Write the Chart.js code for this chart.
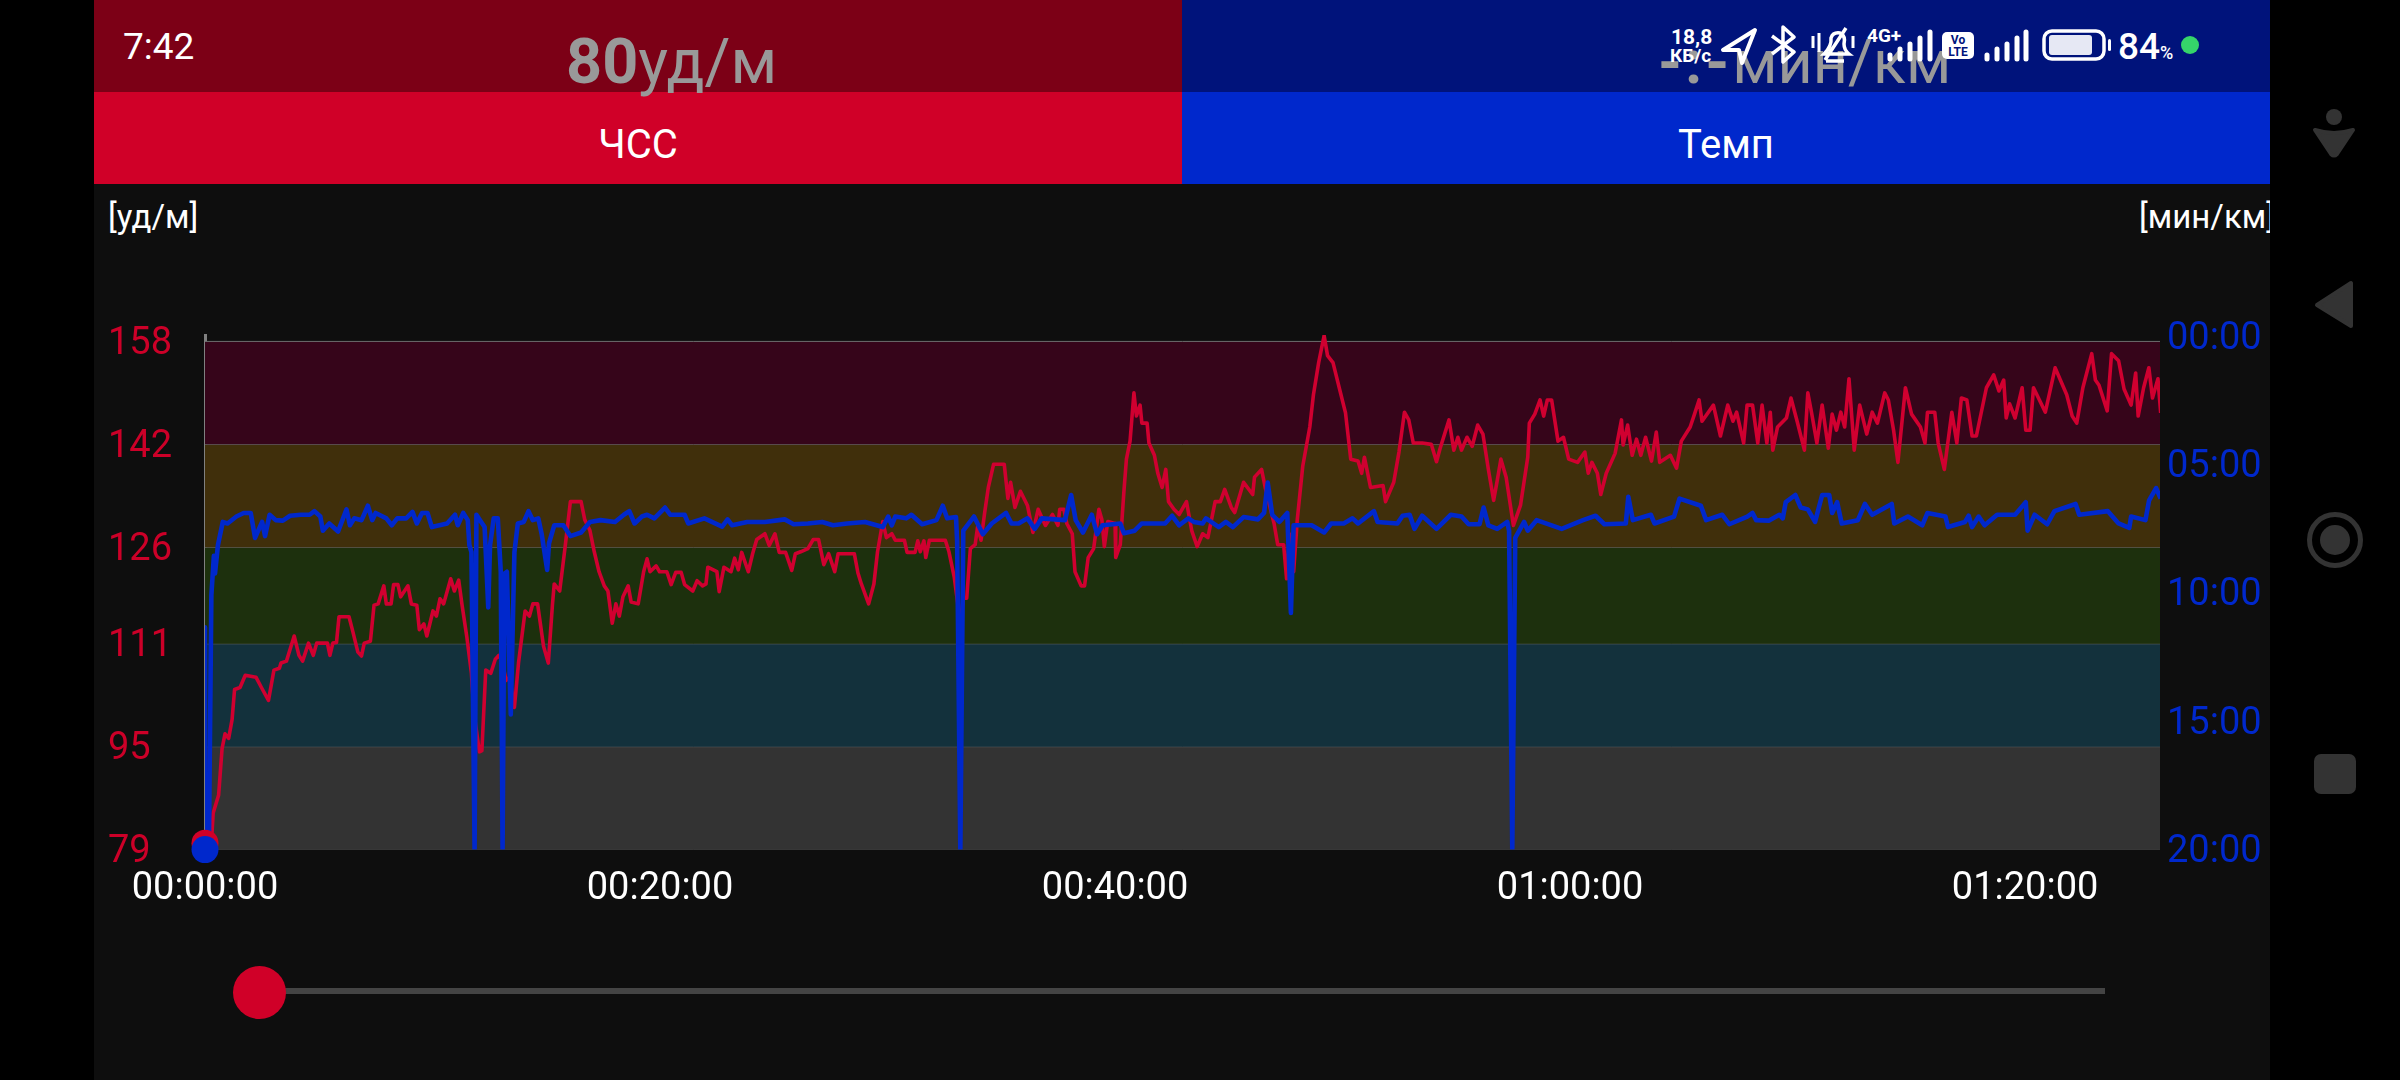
<!DOCTYPE html>
<html lang="ru">
<head>
<meta charset="utf-8">
<title>ЧСС и Темп</title>
<script src="https://cdn.jsdelivr.net/npm/chart.js@4/dist/chart.umd.min.js"></script>
<style>
html,body{margin:0;padding:0;background:#000;width:2400px;height:1080px;overflow:hidden}
#bg,#c{position:absolute;left:0;top:0;width:2400px;height:1080px;display:block}
text{font-family:Roboto,sans-serif}
</style>
</head>
<body>
<svg id="bg" width="2400" height="1080" viewBox="0 0 2400 1080" xmlns="http://www.w3.org/2000/svg">
  <rect x="94" y="0" width="2176" height="1080" fill="#0e0e0e"/>
  <rect x="94" y="0" width="1088" height="92" fill="#7c0016"/>
  <rect x="1182" y="0" width="1088" height="92" fill="#00137b"/>
  <rect x="94" y="92" width="1088" height="92" fill="#d00028"/>
  <rect x="1182" y="92" width="1088" height="92" fill="#0028cc"/>
  <text x="566" y="83" font-size="63" fill="#999"><tspan font-weight="700">80</tspan><tspan>уд/м</tspan></text>
  <text x="1658" y="83" font-size="61" fill="#999"><tspan font-weight="700" letter-spacing="3">-:-</tspan><tspan>мин/км</tspan></text>
  <text x="638" y="158" font-size="40" fill="#fff" text-anchor="middle">ЧСС</text>
  <text x="1726" y="158" font-size="40" fill="#fff" text-anchor="middle">Темп</text>
  <text x="108" y="228" font-size="33" fill="#fff">[уд/м]</text>
  <text x="2139" y="228" font-size="33" fill="#fff">[мин/км]</text>
  <rect x="2270" y="190" width="130" height="50" fill="#000"/>
  <!-- status bar -->
  <text x="123" y="59" font-size="37" font-weight="400" fill="#fff">7:42</text>
  <text x="1671" y="44" font-size="21" font-weight="700" fill="#fff">18,8</text>
  <text x="1670" y="62" font-size="19" font-weight="700" fill="#fff">КБ/с</text>
  <path d="M1755 30 L1723 50 L1739 50 L1742 63 Z" fill="none" stroke="#fff" stroke-width="4" stroke-linejoin="round"/>
  <path d="M1772 36 L1794 52 L1783 62 L1783 27 L1794 37 L1772 54" fill="none" stroke="#fff" stroke-width="3.5" stroke-linejoin="round"/>
  <path d="M1824 54 Q1832 46 1831 38 Q1833 32 1840 33 Q1846 36 1844 44 Q1844 50 1849 54 Z M1826 61 L1844 61 M1846 28 L1825 60" fill="none" stroke="#fff" stroke-width="3.5"/>
  <path d="M1813 36 V48 M1819 33 V52 M1853 36 V48" stroke="#fff" stroke-width="3"/>
  <text x="1867" y="42" font-size="19" font-weight="700" fill="#fff">4G+</text>
  <path d="M1890 55 V59 M1900 49 V59 M1910 44 V59 M1920 38 V59 M1930 32 V59" stroke="#fff" stroke-width="5" stroke-linecap="round"/>
  <rect x="1942" y="32" width="32" height="27" rx="5" fill="#fff"/>
  <text x="1958" y="44" font-size="12" font-weight="700" fill="#00137b" text-anchor="middle">Vo</text>
  <text x="1958" y="56" font-size="12" font-weight="700" fill="#00137b" text-anchor="middle">LTE</text>
  <path d="M1987 55 V59 M1997 49 V59 M2007 44 V59 M2017 38 V59 M2026 32 V59" stroke="#fff" stroke-width="5" stroke-linecap="round"/>
  <rect x="2044" y="31" width="60" height="28" rx="8" fill="none" stroke="#fff" stroke-width="3.5"/>
  <rect x="2049" y="35" width="43" height="20" rx="3" fill="#e6e8f4"/>
  <rect x="2108" y="39" width="3" height="12" rx="1.5" fill="#fff"/>
  <text x="2118" y="59" font-size="37" font-weight="500" fill="#fff">84</text>
  <text x="2160" y="59" font-size="18" font-weight="500" fill="#fff">%</text>
  <circle cx="2190" cy="45" r="9" fill="#35d46a"/>
  <!-- navigation bar -->
  <circle cx="2334" cy="117" r="8" fill="#333"/>
  <path d="M2315 130 Q2334 136 2353 130 L2337 154 Q2334 157 2331 154 Z" fill="#333" stroke="#333" stroke-width="4" stroke-linejoin="round"/>
  <path d="M2317 305 L2351 283 L2351 326 Z" fill="#333" stroke="#333" stroke-width="4" stroke-linejoin="round"/>
  <circle cx="2335" cy="540" r="25.5" fill="none" stroke="#333" stroke-width="5"/>
  <circle cx="2335" cy="540" r="15" fill="#333"/>
  <rect x="2314" y="754" width="42" height="40" rx="7" fill="#333"/>
  <!-- slider -->
  <rect x="285" y="988" width="1820" height="6" fill="#444"/>
  <circle cx="259.5" cy="992.5" r="26.5" fill="#d00028"/>
</svg>
<canvas id="c" width="2400" height="1080"></canvas>
<script>
/* minutes since start, bpm */
const hrTime = [0,.28,.36,.6,.75,.88,1.04,1.19,1.3,1.54,1.77,2.24,2.48,2.79,3.03,3.27,3.34,3.58,3.92,4.13,4.29,4.55,4.76,4.91,5.38,5.49,5.62,5.78,5.89,6.33,6.49,6.72,6.88,7,7.27,7.43,7.61,7.86,7.97,8.18,8.29,8.48,8.6,8.92,9.07,9.31,9.42,9.62,9.75,10.02,10.17,10.33,10.49,10.8,10.96,11.15,11.3,11.51,11.71,11.82,12.06,12.17,12.34,12.56,12.76,12.92,13.08,13.23,13.39,13.6,13.78,14.07,14.26,14.41,14.62,14.88,15.09,15.27,15.35,15.59,15.82,16.06,16.53,16.69,16.92,17.11,17.32,17.55,17.71,17.9,18.06,18.21,18.37,18.6,18.73,19.04,19.28,19.43,19.56,19.83,19.98,20.3,20.49,20.69,20.93,21.08,21.44,21.63,21.87,22.02,22.1,22.5,22.6,22.81,23.12,23.28,23.44,23.59,23.88,24.07,24.25,24.61,24.8,25.05,25.24,25.52,25.79,25.95,26.18,26.5,26.73,26.97,27.2,27.41,27.68,27.83,28.54,28.7,28.85,29.17,29.4,29.56,29.79,29.95,30.19,30.34,30.74,30.86,31.21,31.33,31.44,31.6,31.68,31.84,32.54,32.7,32.93,33.2,33.33,33.48,33.64,33.85,33.96,34.11,34.27,34.43,34.66,35.13,35.29,35.41,35.6,35.84,36.15,36.39,36.62,36.94,37.25,37.49,37.57,37.75,37.88,38.12,38.24,38.51,38.66,38.82,39.06,39.29,39.42,39.53,39.68,40,40.03,40.23,40.39,40.5,40.66,40.83,40.94,41.1,41.18,41.41,41.49,41.73,41.88,42.07,42.23,42.35,42.59,42.82,43.14,43.37,43.61,43.85,44.08,44.4,44.63,44.82,45.11,45.26,45.65,46.05,46.13,46.44,46.6,46.99,47.15,47.41,47.54,47.66,47.85,48.01,48.25,48.56,48.72,48.95,49.19,49.34,49.58,49.89,50.13,50.36,50.68,50.84,50.96,51.23,51.78,51.89,52.25,52.48,52.72,52.91,53.11,53.5,53.9,54.13,54.29,54.68,54.89,55.07,55.23,55.47,55.7,55.94,56.17,56.41,56.64,56.8,56.96,57.19,57.51,57.82,58.14,58.21,58.45,58.68,58.84,59,59.19,59.47,59.71,59.94,60.33,60.65,60.8,60.96,61.2,61.35,61.59,61.98,62.26,62.33,62.53,62.73,62.92,63.11,63.32,63.58,63.79,63.94,64.41,64.68,64.89,65.28,65.47,65.67,65.8,66.3,66.61,66.93,67.16,67.32,67.63,67.78,68.02,68.25,68.44,68.65,68.8,68.91,69.12,69.51,69.71,69.98,70.3,70.45,70.61,70.85,71.08,71.35,71.52,71.71,71.9,72.07,72.26,72.49,72.73,73.04,73.28,73.51,73.83,73.99,74.22,74.41,74.74,75.01,75.4,75.6,75.71,76.03,76.18,76.45,76.78,77,77.2,77.44,77.67,77.86,78.3,78.62,78.85,79.06,79.17,79.32,79.56,79.87,80.03,80.22,80.37,80.89,81.32,81.83,82.07,82.27,82.54,82.93,83.09,83.25,83.61,83.8,84.11,84.35,84.66,84.86,84.97,85.21,85.44,85.6,85.84,85.96];
const hrValues = [80,80,84.7,87.5,94.7,97,96.3,99.2,103.9,104.2,106.1,105.8,104.2,102.2,106.9,107.2,108,108.3,112.2,109.2,108.3,111.1,109.2,111.1,111.1,109.2,111.1,111.2,115.2,115.2,113,109.7,109.1,111.1,111.4,117,117.2,120,117.2,117.2,120.2,120.2,118.3,120,117.2,117,113.2,114.1,112.2,116.1,115.3,118,117.2,121.1,119.2,120.9,117,112,106.4,100.3,94.2,94.4,106.9,106.4,108.6,109.2,108,105.3,105.8,101.1,108,116.1,115.3,117.2,117.2,110.6,108,117,120.3,119.2,125.8,133.1,133.1,130.3,128.6,125.3,122.2,120,119.2,114.2,117.2,115.3,118.3,120,117.5,117.2,122.2,124.2,122.2,123.1,122.2,122.2,120.2,122.1,122.1,120.2,119.2,120.8,120,120.3,122.9,122.2,119.1,122.9,122.2,124.3,122.5,125.2,122.2,125,127.2,128.1,126.3,128.1,125.2,125.2,122.4,125,125.3,125.8,127.2,127.2,123.3,125,122.2,125,125,122,120.3,117.2,120.3,125.3,130,127.5,128.1,127.1,127.1,125.2,125.2,127,125.3,127,124.4,127.1,127.1,125.3,121.4,114.2,118.1,118.1,125.8,126.4,129.2,127.1,131.4,135.3,138.9,138.9,133.6,136.1,132.2,134.7,132.5,128.3,131.9,129.4,131.1,129.4,131.9,131.9,129.7,128.1,122.2,120,120,124.4,125.8,131.9,130.3,126.1,130,129.7,124.4,126.4,134.7,139.7,142.5,150,146.4,148.1,145.3,145.3,142.2,140.3,137.5,135.3,138.1,133.1,131.9,131.1,133.1,128.6,126.1,128.1,127.5,133.1,133.1,135,132.2,131.4,136.1,134.2,136.9,138.1,135.3,129.7,126.4,126.4,121.1,128.1,122.2,130.3,138.6,144.7,149.7,154.7,158.9,155.8,154.7,150.3,146.9,139.7,139.4,137.5,140,135.3,135.6,133.1,136.1,140.8,147,145.8,142.2,142.2,142,139.3,141.4,145.8,141.1,143.1,141.1,143.1,141.7,145,143.6,138.1,133.3,136.4,139.7,136.9,129.4,132.5,140,145.3,146.7,148.9,146.4,148.9,148.9,142.5,143.1,139.7,139.2,140.8,137.5,139.2,137.5,134.2,137.5,140.6,145.8,141.9,145,140.3,142.8,140.3,143.1,139.4,143.9,139.2,140.3,138.3,142.5,144.7,146.7,148.9,145.6,148.1,143.3,148.1,145.6,147,142.2,148.1,148.1,142.2,148.1,142.2,147,141.1,144.7,146.1,149.2,145.6,141.1,150,147,142.2,148.1,141.4,146.7,144.2,147,144.7,152.2,141.1,148.1,143.6,147,145.3,150,148.9,144.2,139.2,150.8,146.7,144.7,142.2,147,147,142.2,138.1,147,142.2,149.2,148.9,143.3,143.3,150.8,152.8,150.3,152,146.1,148.3,146.1,150.8,144.2,144.2,150.8,147,153.9,149.7,146.4,145.3,150.8,156.1,152,151.2,147.2,156.1,155,150.6,148.1,153.1,146.4,150.8,153.9,149.2,152.2,146.9];
/* minutes since start, pace in minutes per km */
const paceTime = [0,0,0,.17,.28,.39,.44,.57,.78,.99,1.38,1.7,2.01,2.2,2.51,2.64,2.84,3.11,3.42,3.74,4.21,4.6,4.81,5.07,5.18,5.46,5.85,6.22,6.37,6.56,6.88,7.16,7.35,7.5,7.97,8.21,8.45,8.84,9.12,9.31,9.54,9.78,9.97,10.64,10.99,11.11,11.35,11.55,11.62,11.71,11.85,11.93,12.14,12.29,12.45,12.53,12.69,12.87,13,13.08,13.16,13.27,13.44,13.6,13.75,14.01,14.22,14.41,14.65,14.8,15.04,15.12,15.35,15.75,16.06,16.53,16.92,17.39,18.02,18.41,18.65,18.88,19.2,19.43,19.75,20.22,20.45,21.08,21.24,21.95,22.73,22.97,23.17,23.83,24.61,25.48,25.87,26.5,27.13,27.6,28.23,29.01,29.79,30.03,30.19,30.34,30.82,31.05,31.52,32.15,32.43,32.62,33.01,33.06,33.2,33.33,33.8,34.19,34.58,35.21,35.45,35.76,36.15,36.47,36.78,37.8,38.07,38.27,38.59,38.98,39.21,39.45,40.23,40.39,40.86,41.18,42.2,42.51,42.82,43.22,43.46,43.85,44,44.56,44.87,45.18,45.65,46.28,46.55,46.71,46.91,47.22,47.57,47.73,47.85,48.64,49.19,49.5,50.05,50.44,50.68,51.38,51.54,52.41,52.64,52.95,53.16,53.5,54.13,54.76,55.23,55.54,56.02,56.2,56.41,56.8,57.24,57.32,57.46,57.59,57.98,58.14,58.53,59.63,60.57,61.12,61.51,62.45,62.56,62.76,63.55,63.71,64.57,64.81,65.75,65.98,66.69,67,67.79,68.02,68.18,68.73,69.2,69.35,69.48,69.9,70.14,70.45,70.77,71.08,71.39,71.52,71.74,71.94,72.65,72.96,73.28,74.14,74.25,74.85,75.48,75.71,76.5,76.61,77.36,77.52,77.67,77.96,78.22,78.77,79.56,80.03,80.11,80.42,80.97,81.29,82.22,82.38,83.64,84.11,84.58,84.66,85.29,85.45,85.76,85.96];
const paceValues = [20,11.34,17.32,20,10.09,8.56,9.25,8.14,7.24,7.3,7.03,6.89,6.89,7.86,7.24,7.79,6.96,7.17,7.19,7,6.96,6.96,6.82,7.03,7.58,7.3,7.61,6.75,7.37,7.1,7.17,6.61,7.17,6.89,7.1,7.37,7.1,7.1,6.85,7.3,6.89,6.89,7.44,7.3,6.96,7.37,6.89,7.17,8.14,8.42,20,6.96,7.24,7.44,10.57,8.14,7.1,7.1,9.18,20,9.25,9.18,14.74,8.42,7.3,7.24,6.82,7.17,7.1,7.72,9.11,8.07,7.37,7.37,7.79,7.65,7.24,7.17,7.24,6.96,6.82,7.3,7.03,6.96,7.1,6.68,6.96,6.96,7.3,7.1,7.42,7.14,7.37,7.24,7.24,7.14,7.33,7.3,7.24,7.37,7.3,7.24,7.44,7.03,7.37,7.03,7.1,6.96,7.33,7.17,6.61,7.1,7.05,8,20,7.58,7.03,7.72,7.3,6.89,7.3,7.3,7.1,7.51,7.1,7.17,6.19,7.17,7.65,6.96,7.72,7.37,7.3,7.68,7.58,7.3,7.3,7,7.37,7.1,7.24,7.3,7.1,7.44,7.24,7.44,7.05,7.14,6.89,5.71,6.96,7.24,6.89,10.78,7.37,7.37,7.65,7.3,7.3,7.1,7.3,6.82,7.24,7.3,7,6.96,7.51,7,7.51,6.96,7.03,7.33,7.33,6.68,7.37,7.51,7.24,7.58,20,7.86,7.24,7.58,7.17,7.51,7.17,7,7.33,7.3,6.26,7.17,6.96,7.3,7.03,6.33,6.61,7.17,6.96,7.33,7.03,6.89,7.17,7.19,6.96,7.1,6.47,6.19,6.68,6.75,7.24,6.19,6.19,6.89,6.47,7.3,7.17,6.54,6.96,6.54,7.3,7.03,7.37,6.89,7.03,7.44,7.24,7,7.44,7.03,7.37,6.96,6.96,6.47,7.58,6.96,7.33,6.82,6.54,6.96,6.82,7.3,7.47,7.03,7.17,6.4,5.92,6.33];
const xMaxMin = 85.93;
const timeTicks = [0,20,40,60,80];
const hrTicks = [158,142,126,111,95,79];
const paceTicks = [0,5,10,15,20];
const zoneColors = ['#36051a','#402f0b','#1d300d','#13313c','#333333'];
const startHr = 80, startPace = 20;

const RED='#cc0028', BLUE='#0028cc', FONT='Roboto, sans-serif';
const pad2 = n => String(n).padStart(2,'0');

const zoneSets = hrTicks.map((v,i)=>({
  type:'line', yAxisID:'y', xAxisID:'x', order:10,
  data:[{x:0,y:v},{x:xMaxMin,y:v}],
  borderColor:'#6e6e6e', borderWidth:1, pointRadius:0,
  fill: i<zoneColors.length ? '+1' : false,
  backgroundColor: zoneColors[i] || 'transparent'
}));

new Chart(document.getElementById('c'),{
  type:'line',
  data:{datasets:[
    ...zoneSets,
    {order:4,yAxisID:'y',data:hrTime.map((t,i)=>({x:t,y:hrValues[i]})),borderColor:'#d00030',borderWidth:3.6,pointRadius:0,tension:0,borderJoinStyle:'round',fill:false},
    {order:3,yAxisID:'y2',data:paceTime.map((t,i)=>({x:t,y:paceValues[i]})),borderColor:BLUE,borderWidth:4.6,pointRadius:0,tension:0,borderJoinStyle:'round',fill:false},
    {order:2,yAxisID:'y',clip:false,data:[{x:0,y:startHr}],pointRadius:13.5,pointBackgroundColor:'#d00028',pointBorderWidth:0,showLine:false},
    {order:1,yAxisID:'y2',clip:false,data:[{x:0,y:startPace}],pointRadius:13.5,pointBackgroundColor:BLUE,pointBorderWidth:0,showLine:false}
  ]},
  options:{
    responsive:false, animation:false, devicePixelRatio:1,
    layout:{padding:{left:108,right:140,top:335,bottom:0}},
    plugins:{legend:{display:false},tooltip:{enabled:false},title:{display:false}},
    scales:{
      x:{type:'linear',min:0,max:xMaxMin,
        grid:{display:false,drawTicks:false},border:{display:false},
        afterBuildTicks:s=>{s.ticks=timeTicks.map(v=>({value:v}))},
        afterFit:s=>{s.height=230.4},
        ticks:{color:'#fff',font:{family:FONT,size:38},padding:17,maxRotation:0,autoSkip:false,
          callback:v=>pad2(Math.floor(v/60))+':'+pad2(v%60)+':00'}},
      y:{type:'linear',position:'left',min:79,max:159,
        grid:{display:false,drawTicks:false},border:{display:true,color:'#808080',width:3},
        afterBuildTicks:s=>{s.ticks=hrTicks.map(v=>({value:v}))},
        afterFit:s=>{s.width=97},
        ticks:{color:RED,font:{family:FONT,size:38},crossAlign:'far',padding:0,labelOffset:3,autoSkip:false,callback:v=>String(v)}},
      y2:{type:'linear',position:'right',reverse:true,min:-0.04,max:20,
        grid:{display:false,drawTicks:false},border:{display:false},
        afterBuildTicks:s=>{s.ticks=paceTicks.map(v=>({value:v}))},
        afterFit:s=>{s.width=100},
        ticks:{color:BLUE,font:{family:FONT,size:38},padding:7,labelOffset:3,autoSkip:false,callback:v=>pad2(v)+':00'}}
    }
  }
});
</script>
</body>
</html>
